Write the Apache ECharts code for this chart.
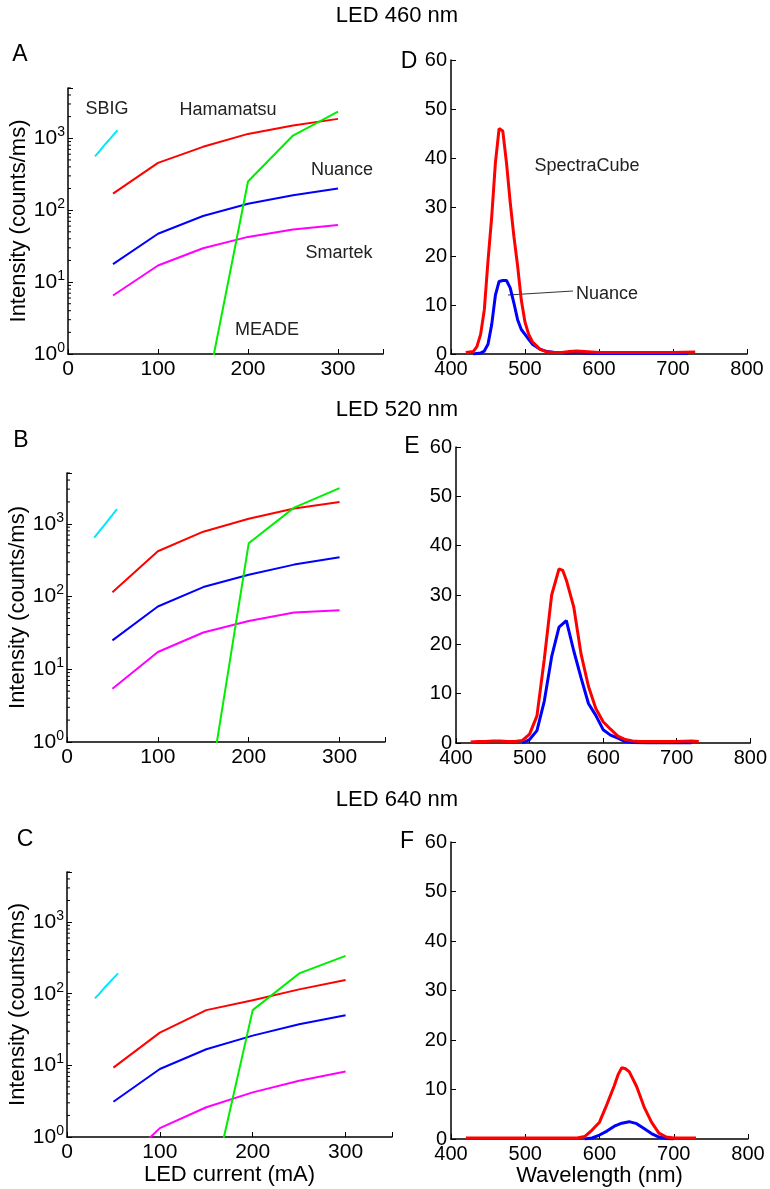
<!DOCTYPE html>
<html><head><meta charset="utf-8">
<script src="https://cdn.jsdelivr.net/npm/echarts/dist/echarts.min.js"></script>
<style>html,body{margin:0;padding:0;background:#fff}#c{width:770px;height:1189px}</style>
</head><body><div id="c"></div>
<script>
// ---------- data ----------
const currents = [50, 100, 150, 200, 250, 300];
const meadeCurrents = [150, 200, 250, 300];
const sbigCurrents = [30, 35, 40, 45, 50, 55];

// LED 460 nm (panel A)
const hamA = [170, 455, 760, 1150, 1510, 1860];
const nuanceA = [17.8, 47, 83, 123, 161, 200];
const smartekA = [6.5, 17, 29.5, 42.5, 54, 62];
const meadeA = [0.17, 250, 1090, 2340];
const sbigA = [560, 660, 790, 930, 1100, 1300];
// LED 520 nm (panel B)
const hamB = [115, 420, 780, 1175, 1620, 2000];
const nuanceB = [25, 73, 135, 200, 275, 348];
const smartekB = [5.4, 17.3, 32, 46, 60.5, 65];
const meadeB = [0.068, 540, 1670, 3100];
const sbigB = [645, 773, 925, 1107, 1325, 1590];
// LED 640 nm (panel C)
const hamC = [9.3, 28.6, 59, 81, 115, 155];
const nuanceC = [3.1, 8.9, 16.8, 26, 37.4, 50];
const smartekC = [0.32, 1.33, 2.6, 4.2, 6.1, 8.2];
const meadeC = [0.082, 59, 192, 338];
const sbigC = [86, 100, 120, 140, 165, 192];

// spectra (panels D, E, F)
const specD_wl = [420,430,435,440,445,450,455,460,465,470,475,480,485,490,495,500,505,510,520,530,540,550,560,570,580,590,600,650,700,730];
const specD = [0.3,0.5,1.5,4,9,19,28,39,46,45.5,39,31,24,18,11,6.5,4,2.5,1,0.4,0.3,0.3,0.5,0.6,0.5,0.4,0.3,0.3,0.3,0.4];
const nuD_wl = [430,440,445,450,455,460,465,470,475,480,485,490,495,500,505,510,520,530,540,560,570,580,600,650,700,720];
const nuD = [0,0.2,0.6,2,6,12,14.8,15,15,13.5,10.4,7,5,4,3,2,1,0.5,0.3,0.2,0.3,0.2,0.1,0.1,0.1,0.1];

const specE_wl = [420,430,440,450,460,470,480,490,500,510,520,530,540,545,550,560,570,580,590,600,610,620,630,640,650,660,680,700,720,730];
const specE = [0.2,0.3,0.3,0.4,0.4,0.3,0.3,0.5,1.8,5.5,17,30,35.3,35,33,27.6,18,11.5,7,4.3,2.8,1.4,0.7,0.4,0.3,0.3,0.3,0.3,0.4,0.3];
const nuE_wl = [490,500,510,520,530,540,550,560,570,580,590,600,610,620,630,640,660,700,720];
const nuE = [0,0.7,2.5,8.5,17.5,23.5,24.8,18.7,13.2,8,5.6,2.7,1.6,1,0.3,0.1,0,0,0];

const specF_wl = [420,450,500,550,570,580,590,600,610,620,625,630,635,640,650,660,670,680,690,700,730];
const specF = [0.2,0.2,0.2,0.2,0.2,0.5,1.8,3.4,7,10.8,13,14.4,14.2,13.6,10.6,6.5,3.4,1.2,0.4,0.2,0.2];
const nuF_wl = [580,590,600,610,620,630,640,650,660,670,680,690,700];
const nuF = [0,0.2,0.8,1.6,2.6,3.2,3.5,3.1,2.1,1.1,0.4,0.1,0];

const logMinorTicks = [2,3,4,5,6,7,8,9,20,30,40,50,60,70,80,90,200,300,400,500,600,700,800,900,2000,3000,4000,5000];
const titles = ['LED 460 nm', 'LED 520 nm', 'LED 640 nm'];

// ---------- chart ----------
const FONT = "'Liberation Sans', Arial, Helvetica, sans-serif";
const zip = (xs, ys) => xs.map((x, i) => [x, ys[i]]);

const grids = [
  {left: 68, top: 88, width: 315, height: 266},   // A
  {left: 67, top: 473, width: 318, height: 269},  // B
  {left: 67, top: 872, width: 325, height: 265},  // C
  {left: 451, top: 60, width: 296, height: 294},  // D
  {left: 456, top: 447, width: 295, height: 296}, // E
  {left: 451, top: 842, width: 297, height: 297}  // F
];

const axisLine = {show: true, lineStyle: {color: '#000', width: 1.5}};
const xAxes = [], yAxes = [];
for (let i = 0; i < 3; i++) {
  xAxes.push({
    gridIndex: i, type: 'value', min: 0, max: 350, interval: 100,
    axisLine, splitLine: {show: false},
    axisTick: {show: true, inside: true, length: 5, lineStyle: {color: '#000'}},
    axisLabel: {color: '#000', fontSize: 21, fontFamily: FONT, margin: 5,
      formatter: v => (v % 100 === 0 ? String(v) : '')},
    name: i === 2 ? 'LED current (mA)' : '', nameLocation: 'middle', nameGap: 22,
    nameTextStyle: {color: '#000', fontSize: 22, fontFamily: FONT}
  });
  yAxes.push({
    gridIndex: i, type: 'log', logBase: 10, min: 1, max: 5000,
    axisLine, splitLine: {show: false},
    axisTick: {show: true, inside: true, length: 5, lineStyle: {color: '#000'}},
    axisLabel: {color: '#000', margin: 3,
      formatter: v => { const e = Math.log10(v), r = Math.round(e);
        return Math.abs(e - r) > 1e-6 ? '' : '{b|10}{s|' + r + '}'; },
      rich: {b: {fontSize: 21, fontFamily: FONT, color: '#000', lineHeight: 26},
             s: {fontSize: 14, fontFamily: FONT, color: '#000', verticalAlign: 'top', lineHeight: 14}}},
    name: 'Intensity (counts/ms)', nameLocation: 'middle', nameGap: 36,
    nameTextStyle: {color: '#000', fontSize: 22, fontFamily: FONT}
  });
}
for (let i = 3; i < 6; i++) {
  xAxes.push({
    gridIndex: i, type: 'value', min: 400, max: 800, interval: 100,
    axisLine, splitLine: {show: false},
    axisTick: {show: true, inside: true, length: 5, lineStyle: {color: '#000'}},
    axisLabel: {color: '#000', fontSize: 20, fontFamily: FONT, margin: 5},
    name: i === 5 ? 'Wavelength (nm)' : '', nameLocation: 'middle', nameGap: 24,
    nameTextStyle: {color: '#000', fontSize: 22, fontFamily: FONT}
  });
  yAxes.push({
    gridIndex: i, type: 'value', min: 0, max: 60, interval: 10,
    axisLine, splitLine: {show: false},
    axisTick: {show: true, inside: true, length: 5, lineStyle: {color: '#000'}},
    axisLabel: {color: '#000', fontSize: 20, fontFamily: FONT, margin: 4}
  });
}

const series = [];
function line(idx, data, color, width) {
  series.push({type: 'line', xAxisIndex: idx, yAxisIndex: idx, data, symbol: 'none',
    showSymbol: false, clip: true, silent: true,
    lineStyle: {color, width}, itemStyle: {color}});
}
const leftSets = [
  [hamA, nuanceA, smartekA, meadeA, sbigA],
  [hamB, nuanceB, smartekB, meadeB, sbigB],
  [hamC, nuanceC, smartekC, meadeC, sbigC]
];
leftSets.forEach((s, i) => {
  line(i, zip(sbigCurrents, s[4]), '#00e8ff', 2);
  line(i, zip(currents, s[2]), '#ff00ff', 2);
  line(i, zip(currents, s[1]), '#0000ff', 2);
  line(i, zip(currents, s[0]), '#ff0000', 2);
  line(i, zip(meadeCurrents, s[3]), '#00ee00', 2);
  series.push({type: 'custom', xAxisIndex: i, yAxisIndex: i, silent: true,
    data: logMinorTicks.map(v => [0, v]),
    renderItem: (params, api) => {
      const p = api.coord([0, api.value(1)]);
      return {type: 'line', shape: {x1: p[0], y1: p[1], x2: p[0] + 3, y2: p[1]},
        style: {stroke: '#000', lineWidth: 1}};
    }});
});
line(3, zip(nuD_wl, nuD), '#0000ff', 3);
line(3, zip(specD_wl, specD), '#ff0000', 3);
line(4, zip(nuE_wl, nuE), '#0000ff', 3);
line(4, zip(specE_wl, specE), '#ff0000', 3);
line(5, zip(nuF_wl, nuF), '#0000ff', 3);
line(5, zip(specF_wl, specF), '#ff0000', 3);

function txt(text, x, y, size, color) {
  return {type: 'text', x, y, silent: true,
    style: {text, fontSize: size, fontFamily: FONT, fill: color || '#222', align: 'center', verticalAlign: 'middle'}};
}
const graphic = [
  txt(titles[0], 397, 16, 22, '#000'),
  txt(titles[1], 397, 410, 22, '#000'),
  txt(titles[2], 397, 800, 22, '#000'),
  txt('A', 20, 55, 23, '#000'),
  txt('B', 21, 441, 23, '#000'),
  txt('C', 25, 840, 23, '#000'),
  txt('D', 409, 62, 23, '#000'),
  txt('E', 412, 447, 23, '#000'),
  txt('F', 407, 842, 23, '#000'),
  txt('SBIG', 107, 109, 18),
  txt('Hamamatsu', 228, 110, 18),
  txt('Nuance', 342, 170, 18),
  txt('Smartek', 339, 253, 18),
  txt('MEADE', 267, 330, 18),
  txt('SpectraCube', 587, 166, 18),
  txt('Nuance', 607, 294, 18),
  {type: 'line', silent: true, shape: {x1: 508, y1: 295, x2: 573, y2: 291}, style: {stroke: '#333', lineWidth: 1}}
];

const chart = echarts.init(document.getElementById('c'), null, {renderer: 'canvas'});
chart.setOption({
  animation: false,
  backgroundColor: '#fff',
  grid: grids,
  xAxis: xAxes,
  yAxis: yAxes,
  series,
  graphic
});
</script></body></html>
